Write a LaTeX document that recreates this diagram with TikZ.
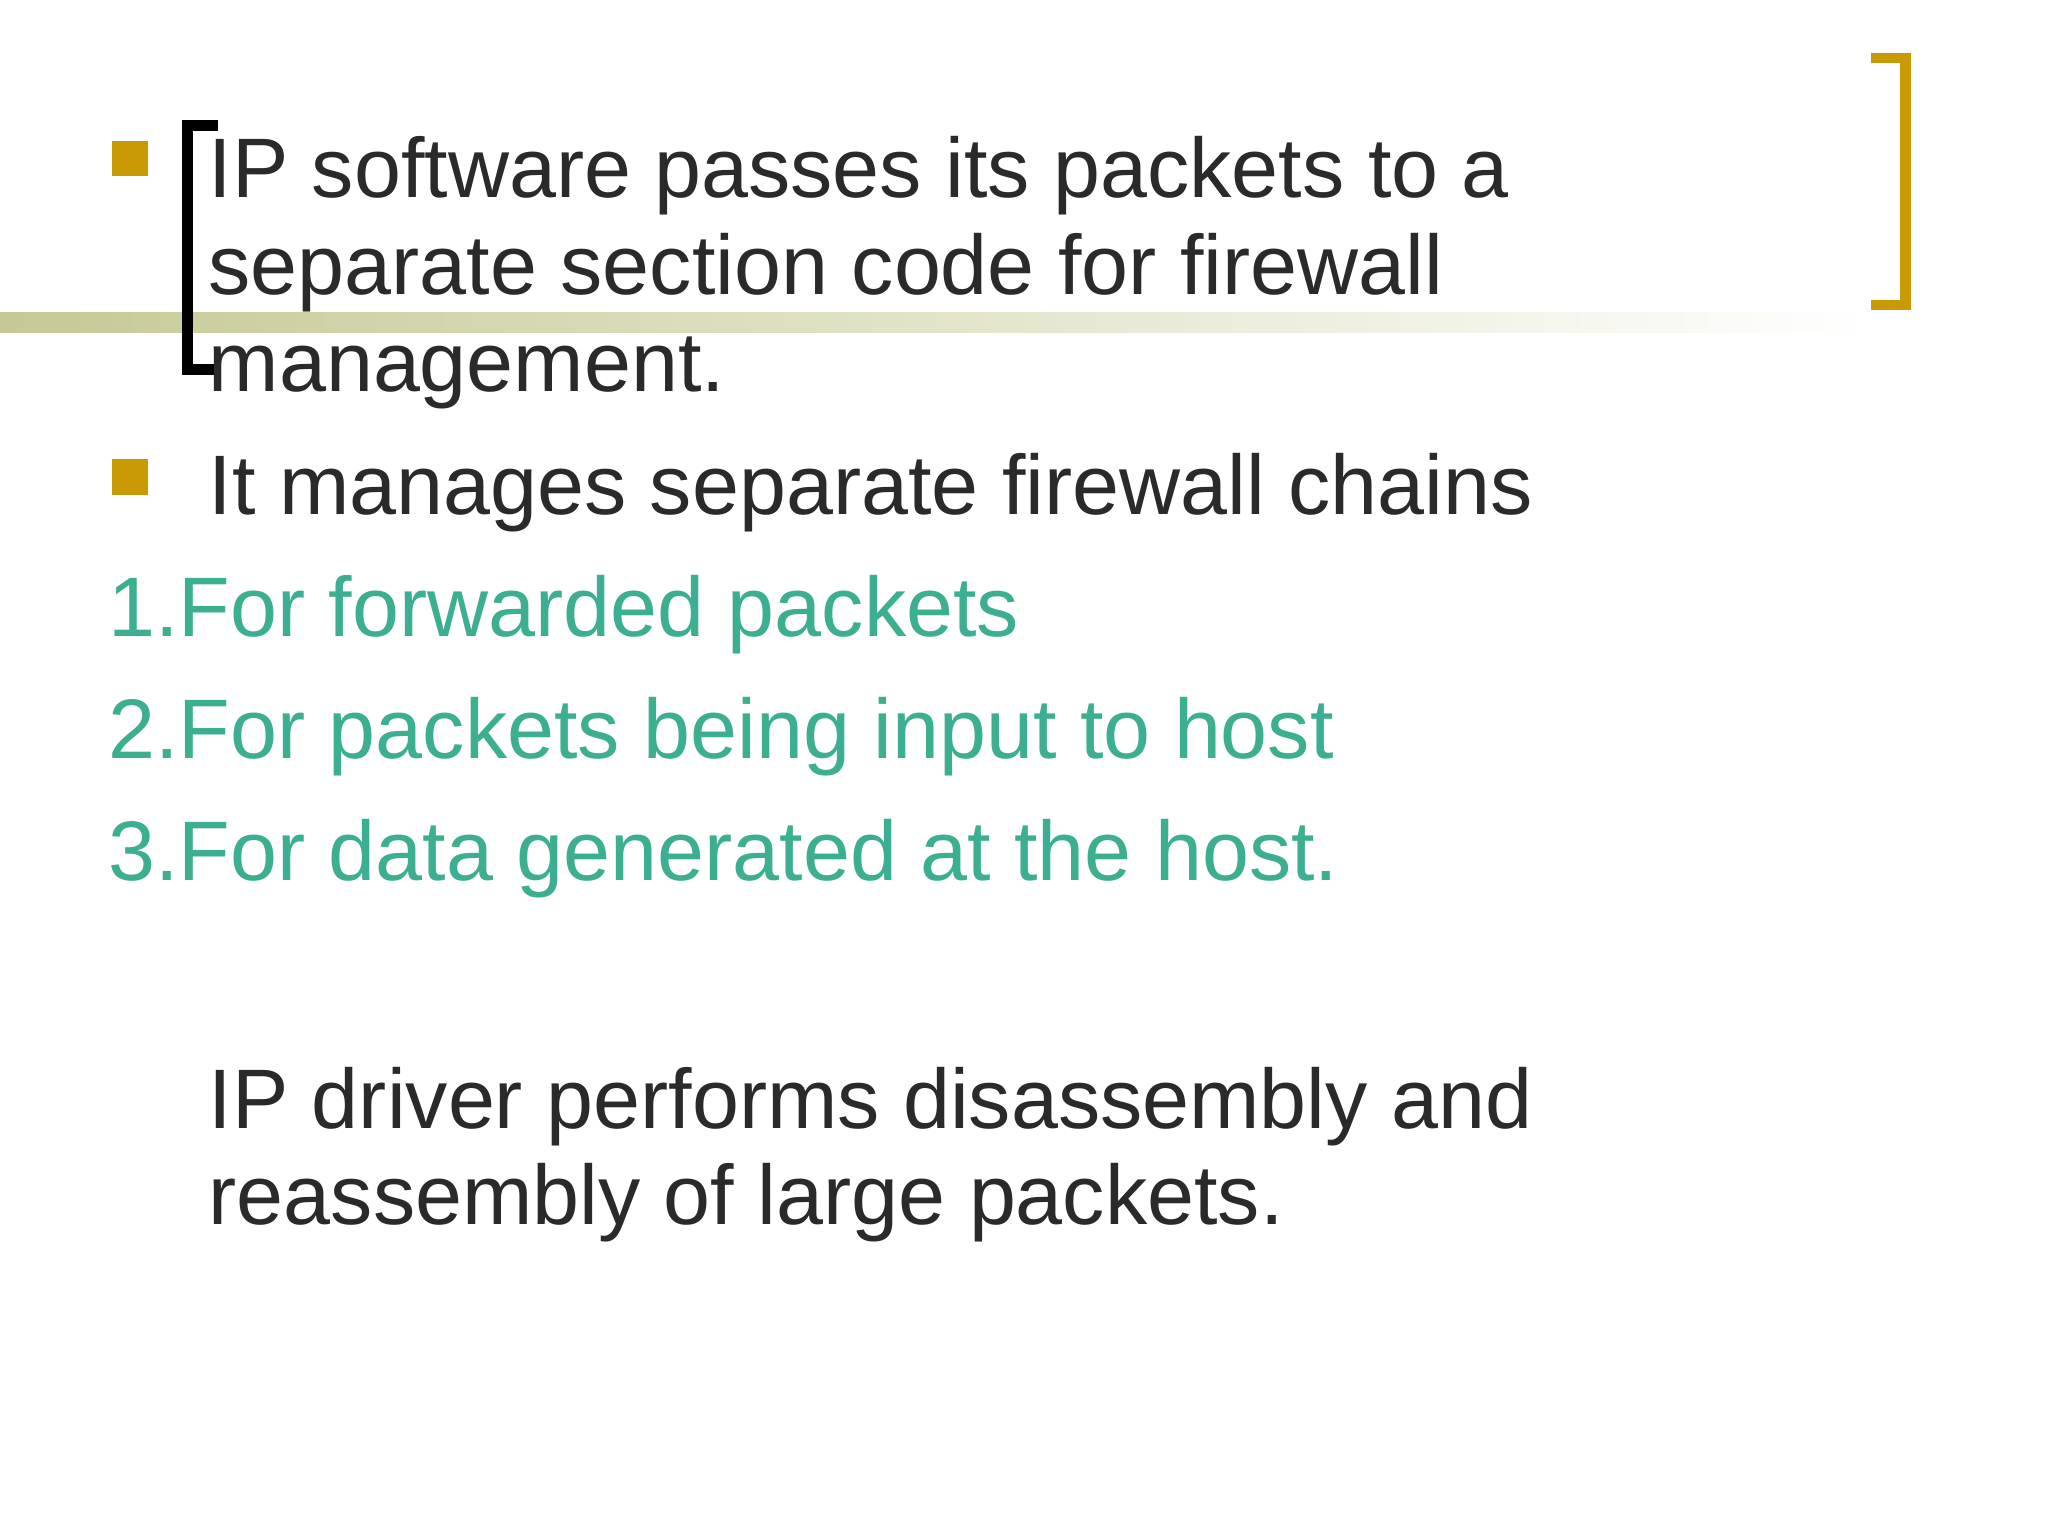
\documentclass[tikz,border=0pt]{standalone}
\usepackage{fontspec}
\setmainfont{Liberation Sans}
\definecolor{gold}{HTML}{C99A06}
\definecolor{teal}{HTML}{3BAF8F}
\definecolor{ink}{HTML}{2A2A2A}
\definecolor{olive}{HTML}{C6C994}
\begin{document}
\begin{tikzpicture}[x=1pt,y=-1pt,
  txt/.style={anchor=base west,inner sep=0pt,font=\fontsize{64}{75}\selectfont,text=ink},
  num/.style={txt,text=teal},
  bul/.style={fill=gold}]
\useasboundingbox (0,0) rectangle (1552,1164);
\fill[white] (0,0) rectangle (1552,1164);
\shade[left color=olive,right color=white] (0,237) rectangle (1420,252);
\fill[bul] (85,107) rectangle (112,133);
\fill[bul] (85,348) rectangle (112,375);
\draw[line width=8pt,black] (165,95) -- (142,95) -- (142,280) -- (165,280);
\draw[line width=8pt,gold] (1418,44) -- (1444,44) -- (1444,231) -- (1418,231);
\node[txt] (l1) at (158,150) {IP software passes its packets to a};
\node[txt] (l2) at (158,223) {separate section code for firewall};
\node[txt] (l3) at (158,297) {management.};
\node[txt] (l4) at (158,390) {It manages separate firewall chains};
\node[num] (n1) at (82,482) {1.For forwarded packets};
\node[num] (n2) at (82,575) {2.For packets being input to host};
\node[num] (n3) at (82,667) {3.For data generated at the host.};
\node[txt] (d1) at (158,855) {IP driver performs disassembly and};
\node[txt] (d2) at (158,928) {reassembly of large packets.};
\end{tikzpicture}
\end{document}
